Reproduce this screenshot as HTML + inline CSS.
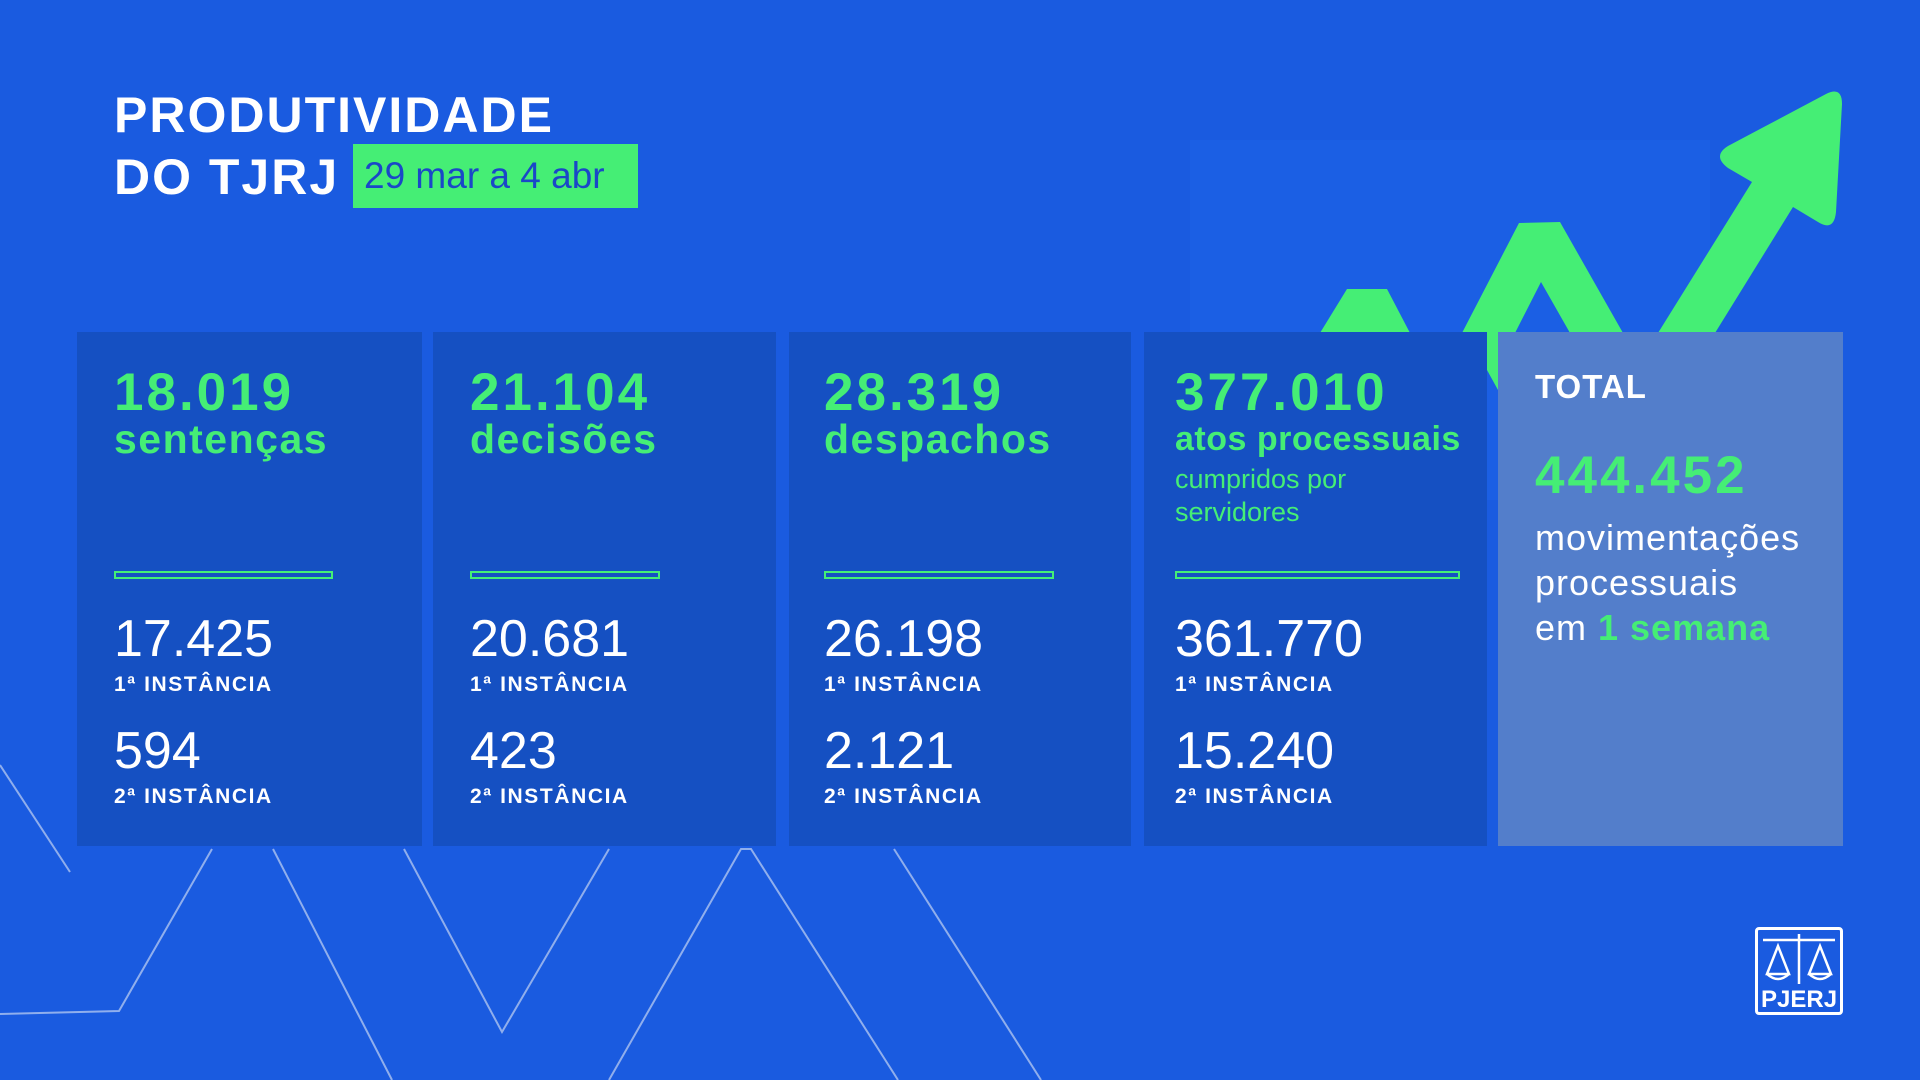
<!DOCTYPE html>
<html><head><meta charset="utf-8"><style>
*{margin:0;padding:0;box-sizing:border-box}
body{width:1920px;height:1080px;overflow:hidden;background:#1a5be0;font-family:"Liberation Sans",sans-serif;position:relative}
.bg{position:absolute;left:0;top:0}
.t{position:absolute;white-space:nowrap}
.card{position:absolute;top:332px;height:514px;background:#1550c2}
.g{color:#45ee75;font-weight:700}
.w{color:#fff}
.big{font-size:53px;font-weight:700;letter-spacing:3px}
.lab{font-size:41px;font-weight:700;letter-spacing:1.5px}
.num{font-size:52px;color:#fff}
.inst{font-size:21px;color:#fff;font-weight:700;letter-spacing:1.6px}
.sep{position:absolute;height:8px;border:2.5px solid #45ee75}
</style></head><body>
<svg class="bg" width="1920" height="1080">
<rect x="0" y="0" width="1920" height="1080" fill="#1a5be0"/>
<rect x="1190" y="140" width="520" height="360" fill="#1d62e6" opacity="0.6"/>
<g fill="none" stroke="#9db8ee" stroke-width="2" opacity="0.9">
<polyline points="0,765 70,872"/>
<polyline points="0,1014 119,1011 212,849"/>
<polyline points="273,849 392,1080"/>
<polyline points="404,849 502,1032 609,849"/>
<polyline points="609,1080 741,849 751,849 898,1080"/>
<polyline points="894,849 1041,1080"/>
</g>
<g fill="#45ee75">
<polygon points="1320,333 1347,289 1387,289 1410,333"/>
<polygon points="1462,333 1519,223 1560,222 1623,333 1570,333 1541,282 1515,333"/>
<path d="M1658,333 L1752,182 L1728,168 Q1712,156 1728,146 L1826,94 Q1842,86 1842,104 L1836,212 Q1834,232 1818,222 L1793,207 L1715,333 Z"/>
<polygon points="1487,333 1498,333 1498,390 1487,370"/>
</g>
</svg>
<div class="t w" style="left:114px;top:84px;font-size:50px;font-weight:700;line-height:62px;letter-spacing:2px">PRODUTIVIDADE<br>DO TJRJ</div>
<div class="t" style="left:353px;top:144px;width:285px;height:64px;background:#45ee75;color:#1a47c8;font-size:37px;line-height:64px;padding-left:11px">29 mar a 4 abr</div>

<div class="card" style="left:77px;width:345px"></div>
<div class="card" style="left:433px;width:343px"></div>
<div class="card" style="left:789px;width:342px"></div>
<div class="card" style="left:1144px;width:343px"></div>
<div class="card" style="left:1498px;width:345px;background:#537ecb"></div>

<div class="t big g" style="left:114px;top:362px">18.019</div>
<div class="t lab g" style="left:114px;top:416px">sentenças</div>
<div class="sep" style="left:114px;top:571px;width:219px"></div>
<div class="t num" style="left:114px;top:609px">17.425</div>
<div class="t inst" style="left:114px;top:673px">1ª INSTÂNCIA</div>
<div class="t num" style="left:114px;top:721px">594</div>
<div class="t inst" style="left:114px;top:785px">2ª INSTÂNCIA</div>

<div class="t big g" style="left:470px;top:362px">21.104</div>
<div class="t lab g" style="left:470px;top:416px">decisões</div>
<div class="sep" style="left:470px;top:571px;width:190px"></div>
<div class="t num" style="left:470px;top:609px">20.681</div>
<div class="t inst" style="left:470px;top:673px">1ª INSTÂNCIA</div>
<div class="t num" style="left:470px;top:721px">423</div>
<div class="t inst" style="left:470px;top:785px">2ª INSTÂNCIA</div>

<div class="t big g" style="left:824px;top:362px">28.319</div>
<div class="t lab g" style="left:824px;top:416px">despachos</div>
<div class="sep" style="left:824px;top:571px;width:230px"></div>
<div class="t num" style="left:824px;top:609px">26.198</div>
<div class="t inst" style="left:824px;top:673px">1ª INSTÂNCIA</div>
<div class="t num" style="left:824px;top:721px">2.121</div>
<div class="t inst" style="left:824px;top:785px">2ª INSTÂNCIA</div>

<div class="t big g" style="left:1175px;top:362px">377.010</div>
<div class="t g" style="left:1175px;top:420px;font-size:34px;letter-spacing:0.5px">atos processuais</div>
<div class="t" style="left:1175px;top:463px;font-size:27px;color:#45ee75;line-height:33px">cumpridos por<br>servidores</div>
<div class="sep" style="left:1175px;top:571px;width:285px"></div>
<div class="t num" style="left:1175px;top:609px">361.770</div>
<div class="t inst" style="left:1175px;top:673px">1ª INSTÂNCIA</div>
<div class="t num" style="left:1175px;top:721px">15.240</div>
<div class="t inst" style="left:1175px;top:785px">2ª INSTÂNCIA</div>

<div class="t w" style="left:1535px;top:368px;font-size:33px;font-weight:700;letter-spacing:1px">TOTAL</div>
<div class="t big g" style="left:1535px;top:445px">444.452</div>
<div class="t w" style="left:1535px;top:515px;font-size:36px;line-height:45px;letter-spacing:1px">movimentações<br>processuais<br>em <b style="color:#45ee75">1 semana</b></div>

<div class="t" style="left:1755px;top:927px;width:88px;height:88px;border:3px solid #fff;border-radius:4px">
<svg width="82" height="58" style="position:absolute;left:0;top:2px" fill="none" stroke="#fff" stroke-width="2.5">
<line x1="5" y1="8" x2="77" y2="8"/><line x1="41" y1="2" x2="41" y2="52"/>
<path d="M9 42 L20 14 L31 42 Z M51 42 L62 14 L73 42 Z"/>
<path d="M9 42 Q20 52 31 42 M51 42 Q62 52 73 42"/>
</svg>
<div class="t w" style="left:3px;top:56px;font-size:24px;font-weight:700">PJERJ</div>
</div>
</body></html>
